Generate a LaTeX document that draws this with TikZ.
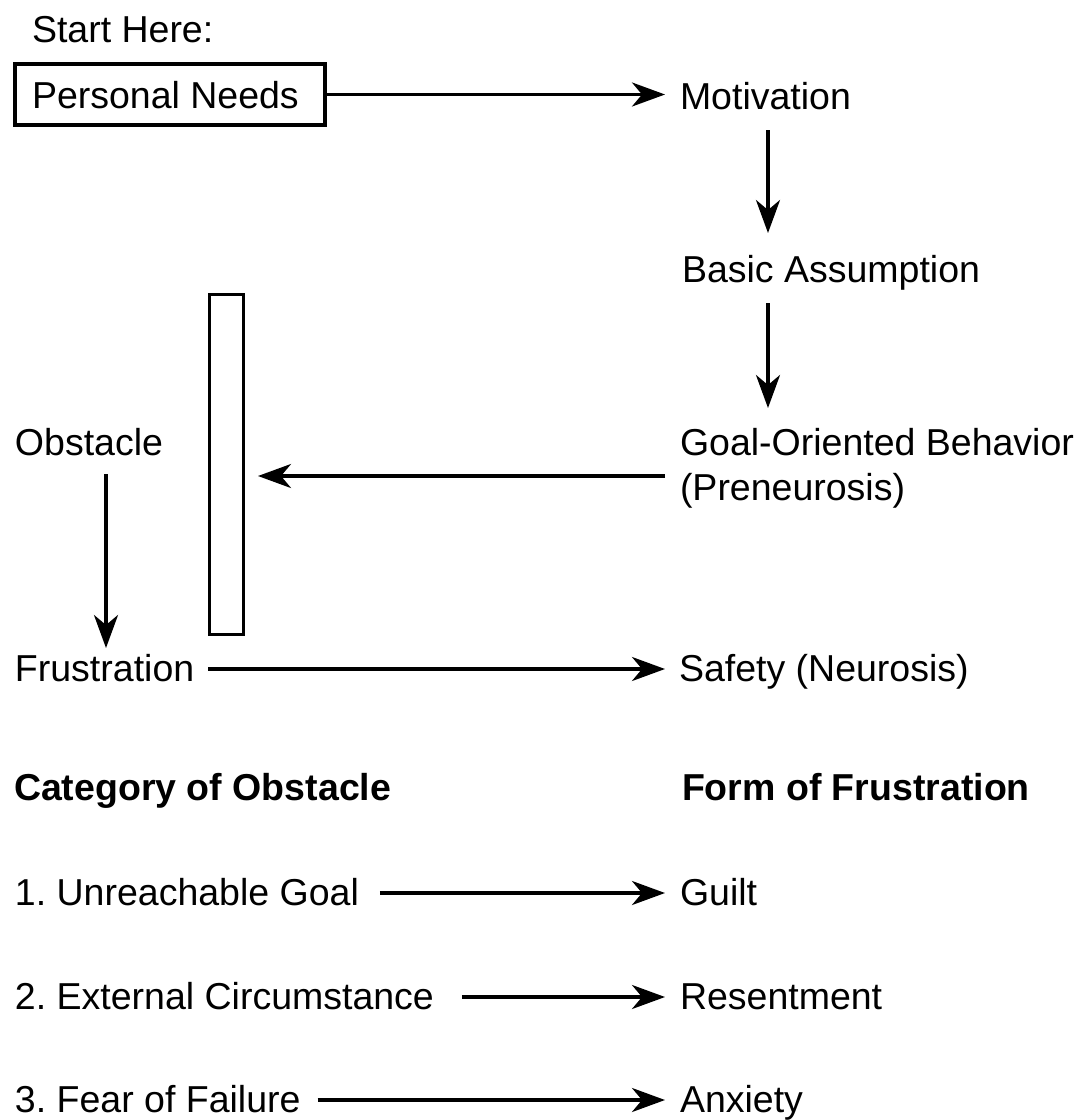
\documentclass[tikz,border=0pt]{standalone}
\usepackage{fontspec}
\setmainfont{Liberation Sans}
\usetikzlibrary{arrows.meta}
\frenchspacing
\begin{document}
\begin{tikzpicture}[x=1pt,y=-1pt,
  every node/.style={inner sep=0pt, outer sep=0pt, font=\fontsize{37.5}{45}\selectfont},
  lbl/.style={anchor=base west},
  head/.style={anchor=base west, font=\fontsize{37.5}{45}\selectfont\bfseries},
  arr/.style={line width=3.4pt, -{Stealth[length=33pt,width=24pt,inset=10pt]}},
]
\useasboundingbox (0,0) rectangle (1091,1120);

% ---- upper flow ----
\node[lbl] (start) at (32,42) {Start Here:};
\node[draw, line width=4pt, minimum width=310pt, minimum height=61pt] (needs) at (170,94.5) {};
\node[lbl] (needstxt) at (32,108) {Personal Needs};

\node[lbl] (mot)   at (680,109) {Motivation};
\node[lbl] (basic) at (682,282) {Basic Assumption};
\node[lbl] (goal)  at (680,455) {Goal-Oriented Behavior};
\node[lbl] (pren)  at (680,500) {(Preneurosis)};
\node[lbl] (safe)  at (679,681) {Safety (Neurosis)};

\node[lbl] (obst) at (15,455) {Obstacle};
\node[lbl] (frus) at (15,681) {Frustration};
\node[draw, line width=3pt, minimum width=34pt, minimum height=340pt] (bar) at (226.5,464.5) {};

% columns of the vertical arrows
\coordinate (colR) at (768,0);
\coordinate (colL) at (106,0);

% Personal Needs -> Motivation
\coordinate (p1) at ([xshift=-15pt]mot.west);
\draw[arr] (needs.east) -- (needs.east -| p1);

% Motivation -> Basic Assumption -> Goal-Oriented Behavior
\coordinate (m0) at ([yshift=-21pt]mot.base -| colR);
\coordinate (m1) at ([yshift=49pt]basic.base -| colR);
\draw[arr] (m0) -- (m1);
\coordinate (b0) at ([yshift=-21pt]basic.base -| colR);
\coordinate (b1) at ([yshift=47pt]goal.base -| colR);
\draw[arr] (b0) -- (b1);

% Goal-Oriented Behavior -> obstacle bar
\coordinate (g0) at ([xshift=-15pt,yshift=-21pt]goal.base west);
\draw[arr, shorten >=14.5pt] (g0) -- (g0 -| bar.east);

% Obstacle -> Frustration
\coordinate (o0) at ([yshift=-19pt]obst.base -| colL);
\coordinate (o1) at ([yshift=33pt]frus.base -| colL);
\draw[arr] (o0) -- (o1);

% Frustration -> Safety
\draw[arr] ([xshift=14pt,yshift=12pt]frus.base east) -- ([xshift=-14pt,yshift=12pt]safe.base west);

% ---- categories ----
\node[head] (cat)  at (14,800)  {Category of Obstacle};
\node[head] (form) at (682,800) {Form of Frustration};

\node[lbl] (c1) at (15,905)  {1. Unreachable Goal};
\node[lbl] (c2) at (15,1009) {2. External Circumstance};
\node[lbl] (c3) at (15,1112) {3. Fear of Failure};

\node[lbl] (f1) at (680,905)  {Guilt};
\node[lbl] (f2) at (680,1009) {Resentment};
\node[lbl] (f3) at (680,1112) {Anxiety};

\draw[arr] ([xshift=21pt,yshift=12pt]c1.base east) -- ([xshift=-15pt,yshift=12pt]f1.base west);
\draw[arr] ([xshift=28pt,yshift=12pt]c2.base east) -- ([xshift=-15pt,yshift=12pt]f2.base west);
\draw[arr] ([xshift=17pt,yshift=12pt]c3.base east) -- ([xshift=-15pt,yshift=12pt]f3.base west);
\end{tikzpicture}
\end{document}
